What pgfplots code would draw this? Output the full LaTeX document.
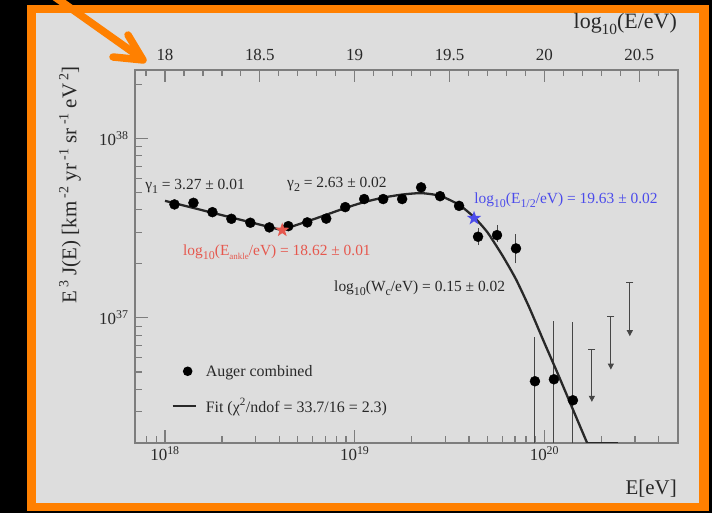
\documentclass[border=0pt]{standalone}
\usepackage{fontspec}
\setmainfont{Liberation Serif}
\usepackage{pgfplots}
\pgfplotsset{compat=1.18}
\usetikzlibrary{arrows.meta}
\definecolor{bg}{RGB}{221,221,221}
\definecolor{frameorange}{RGB}{255,128,0}
\definecolor{axgray}{RGB}{125,125,125}
\definecolor{txt}{RGB}{40,40,40}
\definecolor{errgray}{RGB}{70,70,70}
\definecolor{ankred}{RGB}{230,88,78}
\definecolor{halfblue}{RGB}{75,75,235}
\newcommand{\sbs}[2][12]{\raisebox{-0.55ex}{\fontsize{#1}{#1}\selectfont #2}}
\newcommand{\sps}[2][13.5]{\,\raisebox{0.85ex}{\fontsize{#1}{#1}\selectfont #2}}
\pgfdeclareplotmark{fstar}{%
 \pgfpathmoveto{\pgfpointpolar{90}{\pgfplotmarksize}}%
 \pgfpathlineto{\pgfpointpolar{126}{0.4\pgfplotmarksize}}%
 \pgfpathlineto{\pgfpointpolar{162}{\pgfplotmarksize}}%
 \pgfpathlineto{\pgfpointpolar{198}{0.4\pgfplotmarksize}}%
 \pgfpathlineto{\pgfpointpolar{234}{\pgfplotmarksize}}%
 \pgfpathlineto{\pgfpointpolar{270}{0.4\pgfplotmarksize}}%
 \pgfpathlineto{\pgfpointpolar{306}{\pgfplotmarksize}}%
 \pgfpathlineto{\pgfpointpolar{342}{0.4\pgfplotmarksize}}%
 \pgfpathlineto{\pgfpointpolar{18}{\pgfplotmarksize}}%
 \pgfpathlineto{\pgfpointpolar{54}{0.4\pgfplotmarksize}}%
 \pgfpathclose\pgfusepathqfill}
\pgfplotsset{
 legmark/.style={legend image code/.code={\path[draw=none,fill=none] (0bp,0bp) -- (23bp,0bp); \fill[black,draw=none] (15bp,0bp) circle (4.8bp);}},
 legline/.style={legend image code/.code={\draw[##1] (0bp,0bp) -- (23bp,0bp);}},
}
\begin{document}
\begin{tikzpicture}[x=1bp,y=1bp]
\useasboundingbox (0,0) rectangle (712,513);
\fill[black] (0,0) rectangle (712,513);
\fill[frameorange] (27,2) rectangle (709,508);
\fill[bg] (36,10) rectangle (699,500);
\begin{scope}
\clip (0,0) rectangle (712,513);
\draw[frameorange, line width=7.5, line cap=round, line join=round] (45,523) -- (141,455);
\draw[frameorange, line width=7.5, line cap=round, line join=round] (128,478) -- (143,453) -- (113,456);
\end{scope}

% top axis (log10 scale labels)
\begin{axis}[at={(135bp,70bp)}, anchor=south west, width=543bp, height=373bp, scale only axis,
 xmin=17.842, xmax=20.704, ymin=0, ymax=1,
 axis line style={axgray, line width=1.6bp},
 every tick/.style={axgray, line width=1.2bp},
 tick align=inside, xtick pos=right, xticklabel pos=right, ytick=\empty,
 major tick length=12bp, minor tick length=6bp,
 xtick={18,18.5,19,19.5,20,20.5}, xticklabels={18,18.5,19,19.5,20,20.5},
 minor xtick={17.9,18.1,18.2,18.3,18.4,18.6,18.7,18.8,18.9,19.1,19.2,19.3,19.4,19.6,19.7,19.8,19.9,20.1,20.2,20.3,20.4,20.6},
 tick label style={font=\fontsize{17}{17}\selectfont, text=txt},
 xticklabel style={yshift=6bp},
]
\end{axis}

\begin{axis}[at={(135bp,70bp)}, anchor=south west, width=543bp, height=373bp, scale only axis,
 xmin=17.842, xmax=20.704, ymin=36.303, ymax=38.381,
 axis line style={axgray, line width=1.6bp},
 every tick/.style={axgray, line width=1.2bp},
 tick align=inside, tick pos=left,
 major tick length=13bp, minor tick length=7bp,
 xtick={18,19,20}, xticklabels={10\textsuperscript{18},10\textsuperscript{19},10\textsuperscript{20}},
 minor xtick={17.903,17.954,18.301,18.477,18.602,18.699,18.778,18.845,18.903,18.954,19.301,19.477,19.602,19.699,19.778,19.845,19.903,19.954,20.301,20.477,20.602},
 ytick={37,38}, yticklabels={10\textsuperscript{37},10\textsuperscript{38}},
 minor ytick={36.477,36.602,36.699,36.778,36.845,36.903,36.954,37.301,37.477,37.602,37.699,37.778,37.845,37.903,37.954,38.301},
 tick label style={font=\fontsize{17}{17}\selectfont, text=txt},
 yticklabel style={xshift=-3bp},
 unbounded coords=jump,
 legend style={at={(0.067,0.215)}, anchor=north west, draw=none, fill=none,
   font=\fontsize{16}{16}\selectfont, text=txt, row sep=17bp, inner sep=0pt,
   nodes={inner sep=2bp},
   /tikz/every odd column/.append style={column sep=7bp}},
 legend cell align=left,
]
% error bars
\addplot[forget plot, draw=errgray, line width=1.0bp] coordinates {
 (19.65,37.405) (19.65,37.498) (19.65,nan)
 (19.75,37.424) (19.75,37.517) (19.75,nan)
 (19.85,37.303) (19.85,37.467) (19.85,nan)
 (19.95,36.0) (19.95,36.894) (19.95,nan)
 (20.05,36.0) (20.05,36.982) (20.05,nan)
 (20.15,36.0) (20.15,36.978)
};
% upper limits
\addplot[forget plot, draw=errgray, line width=1.0bp, -{Triangle[width=6bp,length=6bp]}] coordinates {(20.25,36.826) (20.25,36.532)};
\addplot[forget plot, draw=errgray, line width=1.0bp, -{Triangle[width=6bp,length=6bp]}] coordinates {(20.35,37.009) (20.35,36.712)};
\addplot[forget plot, draw=errgray, line width=1.0bp, -{Triangle[width=6bp,length=6bp]}] coordinates {(20.45,37.195) (20.45,36.898)};
\addplot[forget plot, only marks, mark=-, mark size=3.5bp, mark options={line width=1.0bp}, color=errgray] coordinates {(20.25,36.826) (20.35,37.009) (20.45,37.195)};
% fit: below ankle
\addplot[forget plot, no marks, line width=2.3bp, color=txt] coordinates {
 (18.0,37.652) (18.615,37.489)
};
% fit: above ankle
\addplot[forget plot, no marks, smooth, tension=0.35, line width=2.3bp, color=txt] coordinates {
 (18.615,37.489) (18.72,37.527) (18.82,37.563) (18.95,37.612) (19.05,37.645)
 (19.15,37.670) (19.25,37.687) (19.35,37.695) (19.45,37.680) (19.55,37.630)
 (19.63,37.560) (19.70,37.476) (19.78,37.345) (19.85,37.215) (19.92,37.058)
 (20.00,36.860) (20.07,36.690) (20.15,36.490) (20.225,36.303)
};
\addplot[forget plot, no marks, line width=2.3bp, color=txt] coordinates {
 (20.225,36.303) (20.386,36.303)
};
% data
\addplot[forget plot, only marks, mark=*, mark size=5bp, color=black] coordinates {
 (18.05,37.632) (18.15,37.641) (18.25,37.589) (18.35,37.552) (18.45,37.530)
 (18.55,37.504) (18.65,37.511) (18.75,37.532) (18.85,37.553) (18.95,37.617)
 (19.05,37.662) (19.15,37.662) (19.25,37.662) (19.35,37.727) (19.45,37.678)
 (19.55,37.624) (19.65,37.452) (19.75,37.461) (19.85,37.387) (19.95,36.647)
 (20.05,36.658) (20.15,36.541)
};
% stars
\addplot[forget plot, only marks, mark=fstar, mark size=7.5bp, color=ankred] coordinates {(18.618,37.489)};
\addplot[forget plot, only marks, mark=fstar, mark size=7.5bp, color=halfblue] coordinates {(19.629,37.555)};
% legend
\addlegendimage{legmark}
\addlegendentry{Auger combined}
\addlegendimage{txt, line width=2.2bp, legline}
\addlegendentry{Fit (χ\textsuperscript{2}/ndof = 33.7/16 = 2.3)}
% annotations
\node[anchor=west, text=txt, font=\fontsize{15.5}{15.5}\selectfont, inner sep=0pt] at (axis cs:17.895,37.734) {γ\sbs{1} = 3.27 ± 0.01};
\node[anchor=west, text=txt, font=\fontsize{15.5}{15.5}\selectfont, inner sep=0pt] at (axis cs:18.643,37.745) {γ\sbs{2} = 2.63 ± 0.02};
\node[anchor=west, text=ankred, font=\fontsize{15.5}{15.5}\selectfont, inner sep=0pt] at (axis cs:18.095,37.366) {log\sbs{10}(E\sbs[9]{ankle}/eV) = 18.62 ± 0.01};
\node[anchor=west, text=halfblue, font=\fontsize{15.5}{15.5}\selectfont, inner sep=0pt] at (axis cs:19.629,37.656) {log\sbs{10}(E\sbs{1/2}/eV) = 19.63 ± 0.02};
\node[anchor=west, text=txt, font=\fontsize{15.5}{15.5}\selectfont, inner sep=0pt] at (axis cs:18.891,37.166) {log\sbs{10}(W\sbs{c}/eV) = 0.15 ± 0.02};
\end{axis}

\node[anchor=east, text=txt, font=\fontsize{22}{22}\selectfont, inner sep=0pt] at (677,489) {log\sbs[15.5]{10}(E/eV)};
\node[anchor=east, text=txt, font=\fontsize{21}{21}\selectfont, inner sep=0pt] at (677,24) {E[eV]};
\node[rotate=90, text=txt, font=\fontsize{21}{21}\selectfont, inner sep=0pt] at (70,328) {E\sps[14]{3} J(E) [km\sps[14]{-2} yr\sps[14]{-1} sr\sps[14]{-1} eV\sps[14]{2}]};
\end{tikzpicture}
\end{document}
